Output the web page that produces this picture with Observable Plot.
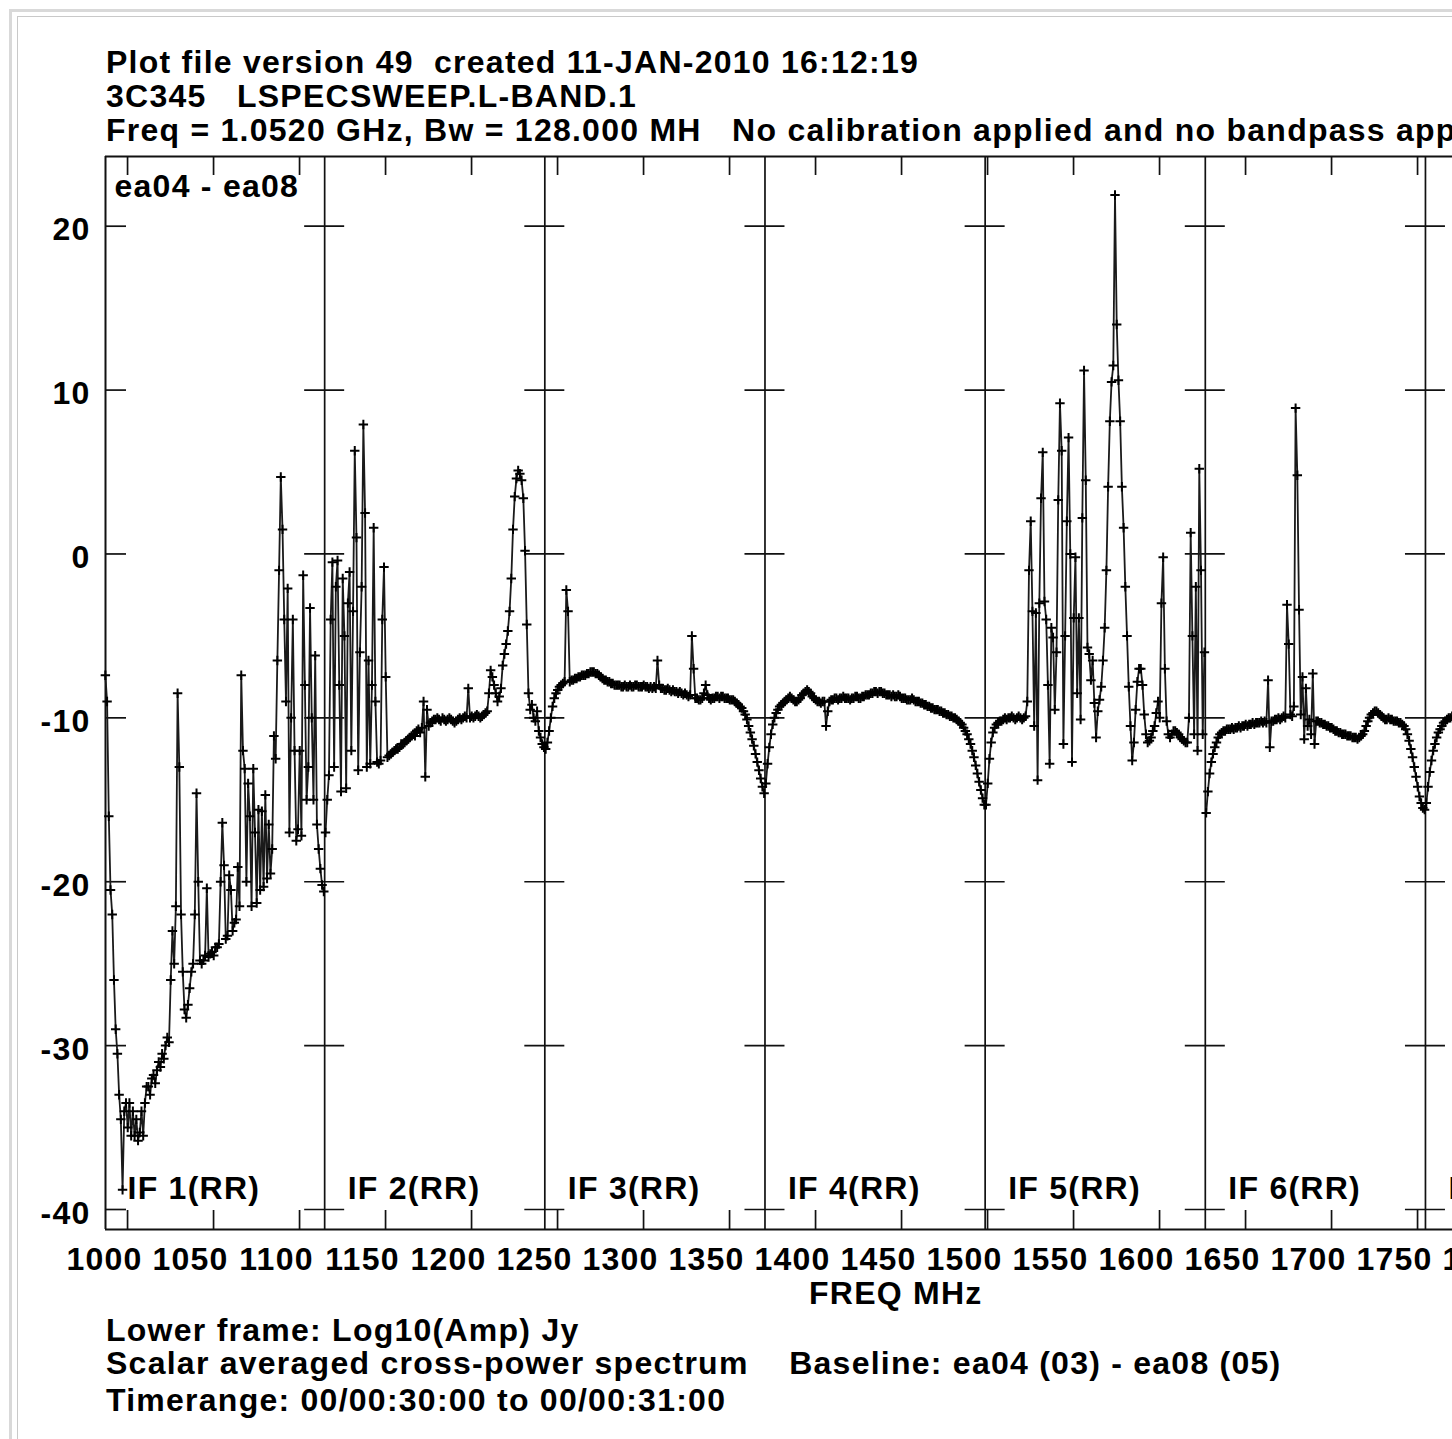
<!DOCTYPE html>
<html><head><meta charset="utf-8">
<script src="https://cdn.jsdelivr.net/npm/d3@7"></script>
<script src="https://cdn.jsdelivr.net/npm/@observablehq/plot@0.6"></script>
<style>
html,body{margin:0;padding:0;background:#fff;overflow:hidden;width:1452px;height:1439px;}
#page{position:relative;width:1452px;height:1439px;overflow:hidden;font-family:"Liberation Sans",Arial,Helvetica,sans-serif;font-weight:bold;font-size:32px;letter-spacing:1.25px;color:#000;}
.t{position:absolute;left:106px;white-space:pre;line-height:33px;}
#chart{position:absolute;left:0;top:150px;}
#f1{position:absolute;left:9px;top:9px;width:3000px;height:3000px;border-left:3px solid #d9d9d9;border-top:3px solid #d9d9d9;}
#f2{position:absolute;left:17px;top:16px;width:3000px;height:3000px;border-left:1px solid #c9c9c9;border-top:1px solid #c9c9c9;}
</style></head>
<body><div id="page">
<div id="chart"></div>
<div id="f1"></div><div id="f2"></div>
<div class="t" style="top:46.4px">Plot file version 49  created 11-JAN-2010 16:12:19</div>
<div class="t" style="top:80.4px">3C345   LSPECSWEEP.L-BAND.1</div>
<div class="t" style="top:114.4px">Freq = 1.0520 GHz, Bw = 128.000 MH   No calibration applied and no bandpass applied</div>
<div class="t" style="top:1277.4px;left:809px">FREQ MHz</div>
<div class="t" style="top:1314px">Lower frame: Log10(Amp) Jy</div>
<div class="t" style="top:1347px">Scalar averaged cross-power spectrum    Baseline: ea04 (03) - ea08 (05)</div>
<div class="t" style="top:1383.5px">Timerange: 00/00:30:00 to 00/00:31:00</div>
</div>
<script>
// ---- data ----
const ifStarts = [1000, 1128, 1256, 1384, 1512, 1640, 1768]; // MHz, 1 MHz channels
const ifLabels = ["IF 1(RR)", "IF 2(RR)", "IF 3(RR)", "IF 4(RR)", "IF 5(RR)", "IF 6(RR)", "IF 7(RR)"];
const yTicks = [20, 10, 0, -10, -20, -30, -40];
const xLabels = [1000, 1050, 1100, 1150, 1200, 1250, 1300, 1350, 1400, 1450, 1500, 1550, 1600, 1650, 1700, 1750, 1800];
const xTickFreqs = [1013.4, 1063.4, 1113.4, 1163.4, 1213.4, 1263.4, 1313.4, 1363.4, 1413.4, 1463.4, 1513.4, 1563.4, 1613.4, 1663.4, 1713.4, 1763.4];
const baselineLabel = "ea04 - ea08";

const if1 = [-7.4,-9,-16,-20.5,-22,-26,-29,-30.5,-33,-34.5,
-38.8,-34,-33.5,-35,-33.5,-35.5,-34,-35.5,-34.5,-35.8,
-35.3,-34,-35.5,-33.5,-32.5,-32.5,-33,-32,-31.8,-32.3,
-31.5,-31,-31.3,-30.5,-30.8,-30,-29.5,-29.8,-26,-23,
-25,-21.5,-8.5,-13,-22,-25.5,-27.8,-28.3,-27.5,-26.5,
-25.5,-25,-22,-14.6,-20,-24.8,-25,-24.8,-24.5,-20.4,
-24.6,-24.4,-24.3,-24.5,-24,-24,-23.8,-20,-16.4,-19,
-23.5,-23.3,-19.6,-20.5,-23,-22.5,-22.3,-19.1,-21.5,-7.4,
-12,-13.1,-20,-14,-16,-21.5,-13.1,-17,-21.3,-15.6,
-20.5,-15.7,-20.3,-14.7,-19.8,-16.5,-19.5,-18,-11.1,-12.5,
-6.5,-1,4.7,1.5,-4,-9,-2.1,-17,-10,-4,
-12,-17.5,-16.8,-12,-17.2,-1.3,-8,-15,-13,-3.3,
-10,-15,-6.2,-16.5,-18,-19.2,-20.2,-20.6];
const if2 = [-17,-15,-13.5,-4,-0.5,-13,-2,-0.4,-8,-14.5,
-1.5,-5,-14.3,-3,-1.1,-12,-3.5,6.3,1,-13.2,
-6,-2,7.9,2.5,-13,-6.5,-12.8,-8,1.6,-9,
-12.7,-12.8,-12.6,-4,-0.8,-7.5,-12.4,-12.3,-12.2,-12.1,
-12.0,-11.9,-11.9,-11.8,-11.6,-11.6,-11.5,-11.4,-11.3,-11.2,
-11.1,-11.0,-11.1,-10.8,-10.7,-10.9,-10.6,-9.0,-13.6,-9.5,
-10.5,-10.3,-10.2,-10.1,
-10.1,-10.0,-10.1,-10.2,-10.0,-10.1,-10.2,-10.1,-10.0,-10.1,-10.2,-10.3,-10.2,-10.1,-10.0,-10.1,-10.0,-9.9,-10.0,
-8.2,
-10.0,-9.9,-10.0,-9.9,-9.8,-9.9,-10.0,-9.9,-9.8,-9.7,-9.6,
-8.5,-7.1,-7.5,-8,-8.5,-9,-8.7,-8.2,-6.8,-6.1,-5.5,-4.7,-3.5,-1.5,1.5,3.5,4.6,5.1,4.9,4.5,3.4,0.2,-4.3,-8.5,-9.5,-9.2,-10,-10.2,-9.6,-10.8,-11.2,-11.6,-11.8];
const if3 = [-11.9,-11.5,-10.8,-10,-9.3,-8.8,-8.5,-8.3,-8.1,-8.0,
-7.9,-7.8,-2.2,-3.5,-7.8,-7.7,-7.7,-7.6,-7.6,-7.5,
-7.5,-7.4,-7.4,-7.4,-7.3,-7.3,-7.2,-7.2,-7.2,-7.3,
-7.3,-7.4,-7.5,-7.6,-7.7,-7.7,-7.8,-7.8,-7.9,-7.9,
-8.0,-8.0,-8.0,-8.0,-8.1,-8.1,-8.0,-8.1,-8.1,-8.0,
-8.1,-8.1,-8.0,-8.0,-8.1,-8.1,-8.1,-8.0,-8.1,-8.1,
-8.2,-8.1,-8.2,-8.1,-8.2,-6.5,-8.0,-8.2,-8.2,-8.3,
-8.3,-8.2,-8.3,-8.4,-8.3,-8.4,-8.4,-8.5,-8.4,-8.5,
-8.6,-8.5,-8.6,-8.7,-8.6,-5.0,-7.0,-8.8,-8.8,-8.9,
-8.9,-8.8,-8.5,-8.0,-8.6,-8.8,-8.9,-8.8,-8.8,-8.7,
-8.7,-8.8,-8.7,-8.7,-8.8,-8.8,-8.8,-8.9,-8.9,-8.9,
-9.0,-9.1,-9.2,-9.3,-9.4,-9.6,-9.8,-10.1,-10.5,-10.9,
-11.3,-11.7,-12.2,-12.7,-13.2,-13.7,-14.2,-14.6];
const if4 = [-14.0,-12.8,-11.8,-11.0,-10.4,-10.0,-9.7,-9.5,-9.3,-9.2,
-9.1,-9.0,-8.9,-8.8,-8.7,-8.8,-8.9,-9.0,-9.0,-8.9,
-8.8,-8.6,-8.5,-8.4,-8.3,-8.4,-8.5,-8.7,-8.8,-8.9,
-9.0,-9.0,-9.1,-9.0,-9.0,-10.5,-9.6,-9.0,-8.9,-8.9,
-8.8,-8.8,-8.9,-8.8,-8.8,-8.7,-8.8,-8.8,-8.8,-8.9,
-8.8,-8.8,-8.7,-8.7,-8.8,-8.8,-8.7,-8.7,-8.6,-8.6,
-8.6,-8.5,-8.5,-8.4,-8.4,-8.5,-8.4,-8.4,-8.5,-8.5,
-8.6,-8.6,-8.6,-8.7,-8.6,-8.7,-8.7,-8.6,-8.7,-8.8,
-8.8,-8.8,-8.9,-8.9,-8.9,-8.8,-8.9,-9.0,-9.0,-9.0,
-9.1,-9.1,-9.2,-9.2,-9.3,-9.3,-9.4,-9.4,-9.5,-9.5,
-9.5,-9.6,-9.6,-9.7,-9.7,-9.8,-9.8,-9.9,-9.9,-10.0,
-10.0,-10.1,-10.2,-10.3,-10.4,-10.6,-10.8,-11.0,-11.3,-11.6,
-12.0,-12.4,-12.9,-13.4,-13.9,-14.4,-14.9,-15.3];
const if5 = [-15.3,-14.0,-12.5,-11.5,-10.9,-10.6,-10.4,-10.3,-10.2,-10.2,
-10.1,-10.0,-10.1,-10.0,-10.0,-9.9,-10.0,-10.1,-10.0,-9.9,
-10.0,-10.1,-10.0,-9.9,-9.0,-1.0,2.0,-3.5,-10.5,-3.6,
-13.8,-3.0,3.4,6.2,-2.9,-4.0,-8,-12.8,-4.5,-5.1,
-9.5,-6,3.3,9.2,6.3,-11.6,-5,2,7.1,0.0,
-12.7,-3.9,-0.2,-8.5,-3.9,-10.1,2.2,11.2,4.5,-5.7,
-6.1,-7.7,-6.5,-9.1,-11.2,-9.6,-8.9,-8.1,-6.5,-4.5,
-1.0,4.1,8.1,10.5,11.5,21.9,14,10.6,8.1,4.1,
1.6,-2.0,-5.0,-8.1,-10.5,-12.6,-11.5,-9.5,-7.8,-7.0,
-7.0,-8.0,-9.8,-11.0,-11.5,-11.4,-11.2,-10.8,-10.5,-9.7,
-9.0,-10.0,-3.0,-0.2,-7.0,-10.2,-11.0,-11.2,-11.0,-10.8,
-10.8,-10.9,-11.0,-11.2,-11.3,-11.4,-11.5,-11.5,-10,1.3,
-5,-11,-2,-12,5.2,-1.0,-11,-6];
const if6 = [-15.8,-14.5,-13.4,-12.7,-12.2,-11.8,-11.5,-11.2,-11.0,-10.9,
-10.8,-10.8,-10.7,-10.7,-10.7,-10.6,-10.7,-10.6,-10.6,-10.5,
-10.6,-10.5,-10.5,-10.4,-10.5,-10.4,-10.4,-10.3,-10.4,-10.3,
-10.3,-10.3,-10.2,-10.3,-10.2,-10.3,-7.7,-11.8,-10.2,-10.2,
-10.1,-10.1,-10.0,-10.1,-10.0,-9.9,-10.0,-3.1,-5.5,-9.8,
-9.9,-9.3,8.9,4.8,-3.4,-9.8,-7.5,-11.3,-8.2,-10.5,
-10.1,-11.0,-7.3,-11.6,-10.2,-10.2,-10.3,-10.3,-10.4,-10.4,
-10.5,-10.5,-10.6,-10.6,-10.7,-10.8,-10.8,-10.9,-10.9,-11.0,
-11.0,-11.0,-11.1,-11.1,-11.1,-11.2,-11.2,-11.2,-11.3,-11.2,
-11.1,-11.0,-10.8,-10.5,-10.2,-10.0,-9.8,-9.7,-9.6,-9.6,
-9.7,-9.8,-9.9,-10.0,-10.1,-10.1,-10.0,-10.1,-10.1,-10.2,
-10.2,-10.2,-10.3,-10.3,-10.4,-10.5,-10.7,-11.0,-11.4,-11.9,
-12.4,-13.0,-13.6,-14.2,-14.8,-15.2,-15.5,-15.6];
const if7 = [-15.2,-14.2,-13.3,-12.6,-12.0,-11.6,-11.2,-10.9,-10.7,-10.5,-10.3,-10.2,-10.1,-10.0,-10.0,-9.9];

// ---- build rows ----
const ifValues = [if1, if2, if3, if4, if5, if6, if7];
const rows = ifValues.flatMap((vals, k) => vals.map((v, i) => ({f: ifStarts[k] + 0.5 + i, v, ifn: k + 1})));
const ifBounds = ifStarts.slice(1);
const crosses = ifBounds.flatMap(b => yTicks.map(v => ({b, v})));

const W = 1452, H = 1170, mL = 105, mR = 0, mT = 6, mB = 91;
const xDom = [1000.58, 1783.72];
const yDom = [-41.22, 24.253];
const pxX = (W - mL - mR) / (xDom[1] - xDom[0]);
const pxY = (H - mT - mB) / (yDom[1] - yDom[0]);

const plus = {draw(ctx, size) {
  const r = Math.sqrt(size / Math.PI);
  ctx.moveTo(-r, 0); ctx.lineTo(r, 0);
  ctx.moveTo(0, -r); ctx.lineTo(0, r);
}};

const FF = "Liberation Sans, Arial, Helvetica, sans-serif";
const txt = {fontSize: 32, fontWeight: "bold", fontFamily: FF, fill: "#000"};
const ink = "#111";

const chart = Plot.plot({
  width: W, height: H,
  marginLeft: mL, marginRight: mR, marginTop: mT, marginBottom: mB,
  x: {domain: xDom, axis: null},
  y: {domain: yDom, axis: null},
  style: {background: "transparent", fontFamily: FF, letterSpacing: "1.25px", overflow: "hidden"},
  marks: [
    // frame (left, top, bottom)
    Plot.ruleX([xDom[0]], {stroke: ink, strokeWidth: 2}),
    Plot.ruleY([yDom[0], yDom[1]], {stroke: ink, strokeWidth: 2}),
    // IF boundaries
    Plot.ruleX(ifBounds, {stroke: ink, strokeWidth: 1.7}),
    // y ticks at left frame and crosses at IF boundaries
    Plot.ruleY(yTicks, {y: d => d, x1: xDom[0], x2: xDom[0] + 21 / pxX, stroke: ink, strokeWidth: 1.7}),
    Plot.ruleY(crosses, {y: "v", x1: d => d.b - 20 / pxX, x2: d => d.b + 20 / pxX, stroke: ink, strokeWidth: 1.7}),
    // x ticks top and bottom
    Plot.ruleX(xTickFreqs, {x: d => d, y1: yDom[1], y2: yDom[1] - 19 / pxY, stroke: ink, strokeWidth: 1.7}),
    Plot.ruleX(xTickFreqs, {x: d => d, y1: yDom[0], y2: yDom[0] + 19 / pxY, stroke: ink, strokeWidth: 1.7}),
    // spectrum
    Plot.line(rows, {x: "f", y: "v", z: "ifn", stroke: "#1a1a1a", strokeWidth: 1.8}),
    Plot.dot(rows, {x: "f", y: "v", symbol: plus, r: 4.7, stroke: "#000", fill: "none", strokeWidth: 2}),
    // tick labels
    Plot.text(xLabels, {x: d => d, text: d => String(d), frameAnchor: "bottom", lineAnchor: "bottom", dy: 40.5, textAnchor: "middle", ...txt}),
    Plot.text(yTicks, {y: d => d, text: d => String(d), frameAnchor: "left", textAnchor: "end", lineAnchor: "middle", dx: -15, dy: 4, ...txt}),
    // IF labels and baseline label
    Plot.text(ifLabels, {x: (d, i) => ifStarts[i], text: d => d, frameAnchor: "bottom", lineAnchor: "bottom", textAnchor: "start", dx: 23, dy: -31, ...txt}),
    Plot.text([baselineLabel], {text: d => d, frameAnchor: "top-left", lineAnchor: "bottom", textAnchor: "start", dx: 9, dy: 40.7, ...txt})
  ]
});
document.getElementById("chart").appendChild(chart);
</script>
</body></html>
